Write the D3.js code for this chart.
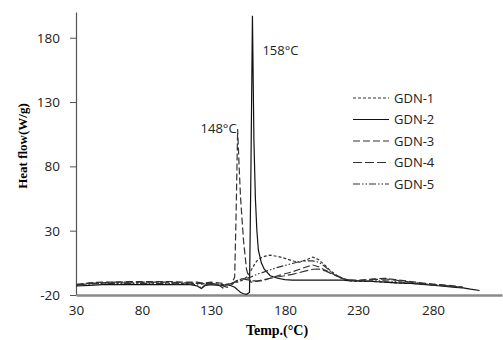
<!DOCTYPE html>
<html>
<head>
<meta charset="utf-8">
<script src="https://cdn.jsdelivr.net/npm/d3@7"></script>
<style>
  body { margin: 0; background: #fff; }
  svg { display: block; }
</style>
</head>
<body>
<svg width="503" height="340"></svg>
<script>
let width = 503
let height = 340

// temperatures (°C) shared by every curve
let temps = [30, 40, 50, 60, 70, 80, 90, 100, 110,
  115, 120, 123, 126, 130,
  135, 138, 141, 144, 146,
  147, 148, 149, 150, 152,
  154, 156, 157, 158, 159,
  160, 161, 162, 164, 166,
  170, 175, 180, 185, 190,
  195, 199, 203, 207, 211,
  215, 220, 225, 230, 240,
  248, 255, 265, 275, 285,
  295, 300, 305, 311]

let gdn1 = [-12, -11, -10.5, -10.5, -10.5, -10.5, -10.5, -10.5, -11,
  -11, -11, -11.5, -11, -11,
  -11.5, -12, -11.5, -11, -10.5,
  -10, -10, -9.5, -9, -8,
  -6, -3, -1, 1, 3,
  5, 6.5, 7.5, 9, 10,
  11, 10, 8.5, 6.5, 5.5,
  7.5, 9.5, 7.5, 3.5, -1,
  -4.5, -7.5, -9, -9.5, -9.5,
  -10, -10.5, -11, -11.5, -12.5,
  -13.5, -14, null, null]

let gdn2 = [-13, -12.5, -12, -12, -12, -12, -12, -12, -12,
  -12, -13, -15, -12.5, -12,
  -12.5, -12.5, -12, -13, -14,
  -15, -16, -17, -18, -19,
  -19.5, -18, 80, 197, 100,
  55, 30, 15, 5, 0,
  -5, -7, -8, -8.5, -8.5,
  -8.5, -8.5, -8.5, -8.5, -8.5,
  -8.5, -8.5, -9, -9, -9.5,
  -10, -10.5, -11, -12, -13,
  -14, -14.5, -15.5, -16.5]

let gdn3 = [-12, -10.5, -10, -10, -9.5, -9.5, -9.5, -9.5, -10,
  -10, -10, -10.5, -10.5, -10,
  -10.5, -11, -12, -11, -6,
  45, 109, 80, 55, 22,
  0, -8, -10, -10, -10,
  -9.5, -9.5, -9, -9, -8.5,
  -7, -5, -3.5, -2, 0,
  2, 3.3, 2, -0.5, -2.5,
  -5, -7.5, -8.5, -8.5, -7.5,
  -7, -8, -9.5, -11, -12,
  -13, -14, null, null]

let gdn4 = [-12.5, -11, -10.5, -10, -10, -10, -10, -10, -10.5,
  -10.5, -11, -11, -11.5, -11,
  -12, -13, -14, -12, -10,
  -9, -8.5, -8, -7.5, -7.5,
  -8, -8.5, -8.5, -9, -9,
  -9, -9, -9, -8.5, -8,
  -7, -6, -5, -4, -2.5,
  -1, 0, 0.2, -1, -3,
  -5, -7.5, -8.5, -9, -8,
  -7.5, -8.5, -10, -11.5, -12.5,
  -13.5, -14.5, null, null]

let gdn5 = [-12, -11.5, -11, -11, -11, -11, -11, -11, -11.5,
  -11.5, -12, -14.5, -12, -11.5,
  -12, -14.5, -12, -11, -10,
  -9.5, -9, -8.5, -8, -7.5,
  -7, -6.5, -6, -5.5, -5,
  -4.5, -4, -3.5, -3, -2,
  -0.5, 1.5, 3, 4.5, 6,
  6.5, 6.5, 5.5, 2.5, -1.5,
  -4.5, -7.5, -8.5, -9, -9,
  -9, -9.5, -10.5, -11.5, -12.5,
  -13.5, -14, null, null]

let seriesNames = ["GDN-1", "GDN-2", "GDN-3", "GDN-4", "GDN-5"]
let seriesValues = [gdn1, gdn2, gdn3, gdn4, gdn5]
let dashes = ["3,2", null, "7,3", "9,3", "7,2,1.5,2,1.5,2"]

let xTicks = [30, 80, 130, 180, 230, 280]
let yTicks = [-20, 30, 80, 130, 180]

let svg = d3.select("svg")

// the category-style axis isn't evenly spaced, so a polylinear scale follows its labels
let xScale = d3.scaleLinear()
               .domain([30, 80, 130, 180, 230, 280, 326])
               .range([76, 142, 211, 285, 358, 433, 502])

let yScale = d3.scaleLinear()
               .domain([-20, 200])
               .range([295, 12])

let plainNum = (d) => String(d)

let drawAxes = () => {
  let yAxis = d3.axisLeft(yScale)
                .tickValues(yTicks)
                .tickFormat(plainNum)
                .tickSize(6)
                .tickSizeOuter(0)
                .tickPadding(10)

  let gy = svg.append("g")
     .attr("id", "y-axis")
     .attr("transform", "translate(76,0)")
     .call(yAxis)
  gy.select(".domain").attr("stroke", "#555").attr("stroke-width", 1.2)
  gy.selectAll(".tick line").attr("stroke", "#555")
  gy.selectAll("text")
    .attr("fill", "#222")
    .style("font-family", "'Open Sans', sans-serif")
    .style("font-size", "13.5px")

  let xAxis = d3.axisBottom(xScale)
                .tickValues(xTicks)
                .tickFormat(plainNum)
                .tickSize(0)
                .tickPadding(10)

  let gx = svg.append("g")
     .attr("id", "x-axis")
     .attr("transform", "translate(0," + yScale(-20) + ")")
     .call(xAxis)
  gx.select(".domain").attr("stroke", "#8a8a8a").attr("stroke-width", 2.5)
  gx.selectAll("text")
    .attr("fill", "#222")
    .style("font-family", "'Open Sans', sans-serif")
    .style("font-size", "13.5px")

  svg.append("text")
     .text("Temp.(°C)")
     .attr("x", 277)
     .attr("y", 335)
     .attr("text-anchor", "middle")
     .style("font-family", "'Liberation Serif', serif")
     .style("font-weight", "bold")
     .style("font-size", "14px")

  svg.append("text")
     .text("Heat flow(W/g)")
     .attr("transform", "translate(27,146) rotate(-90)")
     .attr("text-anchor", "middle")
     .style("font-family", "'Liberation Serif', serif")
     .style("font-weight", "bold")
     .style("font-size", "13px")
}

let drawLines = () => {
  let line = d3.line()
               .defined((d) => d[1] !== null)
               .x((d) => xScale(d[0]))
               .y((d) => yScale(d[1]))

  seriesValues.forEach((vals, i) => {
    let pts = temps.map((t, j) => [t, vals[j]])
    svg.append("path")
       .datum(pts)
       .attr("fill", "none")
       .attr("stroke", i === 1 ? "#111" : "#333")
       .attr("stroke-width", 1.2)
       .attr("stroke-dasharray", dashes[i])
       .attr("d", line)
  })

  // peak labels
  svg.append("text")
     .text("158°C")
     .attr("x", xScale(158) + 10)
     .attr("y", 55)
     .style("font-family", "'Open Sans', sans-serif")
     .style("font-size", "13px")
     .attr("fill", "#222")

  svg.append("text")
     .text("148°C")
     .attr("x", xScale(148) - 1)
     .attr("y", yScale(109) + 4)
     .attr("text-anchor", "end")
     .style("font-family", "'Open Sans', sans-serif")
     .style("font-size", "13px")
     .attr("fill", "#222")
}

let drawLegend = () => {
  let legend = svg.append("g").attr("id", "legend")
  seriesNames.forEach((name, i) => {
    let ly = 98 + i * 21.5
    legend.append("line")
          .attr("x1", 353)
          .attr("x2", 389)
          .attr("y1", ly)
          .attr("y2", ly)
          .attr("stroke", i === 1 ? "#111" : "#333")
          .attr("stroke-width", 1.2)
          .attr("stroke-dasharray", dashes[i])
    legend.append("text")
          .text(name)
          .attr("x", 394)
          .attr("y", ly)
          .attr("dy", "0.35em")
          .attr("fill", "#222")
          .style("font-family", "'Open Sans', sans-serif")
          .style("font-size", "13px")
  })
}

drawAxes()
drawLines()
drawLegend()
</script>
</body>
</html>
